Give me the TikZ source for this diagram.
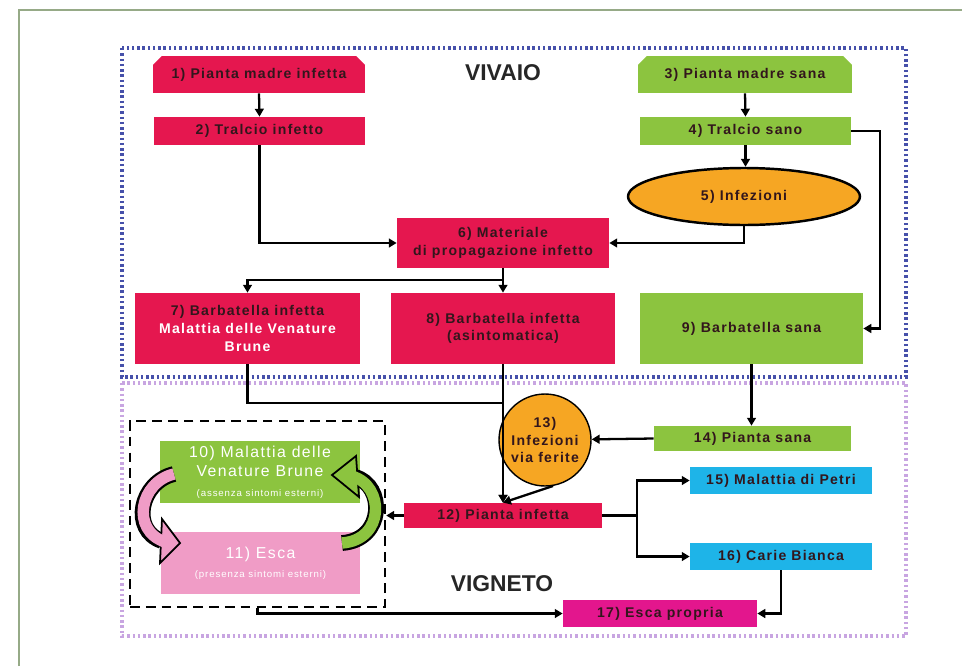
\documentclass[tikz,border=0pt]{standalone}
\usepackage{fontspec}
\setmainfont{Liberation Sans}
\newfontfamily\boxfont[LetterSpace=9]{Liberation Sans}
\usetikzlibrary{shapes.geometric,shapes.misc,arrows.meta}

\definecolor{vred}{RGB}{229,23,79}
\definecolor{vgreen}{RGB}{140,196,63}
\definecolor{vorange}{RGB}{246,166,35}
\definecolor{vblue}{RGB}{30,180,232}
\definecolor{vmagenta}{RGB}{227,22,141}
\definecolor{vpink}{RGB}{240,156,198}
\definecolor{vtext}{RGB}{50,22,28}
\definecolor{vivaioline}{RGB}{70,80,170}
\definecolor{vignetoline}{RGB}{200,165,225}
\definecolor{frameline}{RGB}{150,170,135}

\tikzset{
  box/.style={rectangle, inner sep=1pt, align=center, text=vtext,
    font=\boxfont\bfseries\fontsize{8}{10}\selectfont},
  redbox/.style={box, fill=vred},
  greenbox/.style={box, fill=vgreen},
  bluebox/.style={box, fill=vblue},
  topbox/.style={chamfered rectangle, chamfered rectangle corners={north west,north east},
    chamfered rectangle xsep=2.5pt, chamfered rectangle ysep=2.5pt},
  lightbox/.style={box, text=white, font=\boxfont\fontsize{9}{11}\selectfont},
  flow/.style={line width=1.3pt, -{Triangle[length=4.5pt,width=5pt]}},
  link/.style={line width=1.3pt},
  title/.style={font=\bfseries\fontsize{13}{15}\selectfont, text=black!85},
}

\begin{document}
\begin{tikzpicture}[x=0.02cm,y=-0.02cm]
	\useasboundingbox (0,0) rectangle (962,666);

	% frame
	\draw[frameline, line width=1pt] (19,666) -- (19,10) -- (962,10);

	% areas
	\draw[vivaioline, line width=2pt, dash pattern=on 1.4pt off 1.6pt] (122,48) rectangle (906,377);
	\draw[vignetoline, line width=2pt, dash pattern=on 1.4pt off 1.6pt] (122,383) rectangle (906,636);
	\node[title] (vivaio) at (503,73) {VIVAIO};
	\node[title] (vigneto) at (502,584) {VIGNETO};

	% vivaio
	\node[redbox, topbox, minimum width=4.24cm, minimum height=0.74cm] (n1) at (259,74.5) {1) Pianta madre infetta};
	\node[redbox, minimum width=4.22cm, minimum height=0.56cm] (n2) at (259.5,131) {2) Tralcio infetto};
	\node[greenbox, topbox, minimum width=4.28cm, minimum height=0.74cm] (n3) at (745,74.5) {3) Pianta madre sana};
	\node[greenbox, minimum width=4.22cm, minimum height=0.56cm] (n4) at (745.5,131) {4) Tralcio sano};
	\node[box, ellipse, fill=vorange, draw=black, line width=1.4pt, minimum width=4.64cm, minimum height=1.14cm] (n5) at (744,196.5) {5) Infezioni};
	\node[redbox, minimum width=4.24cm, minimum height=1cm] (n6) at (503,243) {6) Materiale\\di propagazione infetto};
	\node[redbox, minimum width=4.5cm, minimum height=1.42cm] (n7) at (247.5,328.5) {7) Barbatella infetta\\\textcolor{white}{Malattia delle Venature}\\\textcolor{white}{Brune}};
	\node[redbox, minimum width=4.48cm, minimum height=1.42cm] (n8) at (503,328.5) {8) Barbatella infetta\\(asintomatica)};
	\node[greenbox, minimum width=4.46cm, minimum height=1.42cm] (n9) at (751.5,328.5) {9) Barbatella sana};

	% vigneto
	\node[greenbox, minimum width=3.94cm, minimum height=0.5cm] (n14) at (752.5,438.5) {14) Pianta sana};
	\node[box, circle, fill=vorange, draw=black, line width=0.8pt, minimum size=1.84cm, inner sep=0pt] (n13) at (545,440) {13)\\Infezioni\\via ferite};
	\node[redbox, minimum width=3.96cm, minimum height=0.5cm] (n12) at (503,515.5) {12) Pianta infetta};
	\node[bluebox, minimum width=3.64cm, minimum height=0.54cm] (n15) at (781,480.5) {15) Malattia di Petri};
	\node[bluebox, minimum width=3.64cm, minimum height=0.54cm] (n16) at (781,556.5) {16) Carie Bianca};
	\node[box, fill=vmagenta, minimum width=3.88cm, minimum height=0.54cm] (n17) at (660,613.5) {17) Esca propria};
	\node[lightbox, fill=vgreen, minimum width=4cm, minimum height=1.24cm] (n10) at (260,472) {10) Malattia delle\\Venature Brune\\{\fontsize{5.5}{7}\selectfont (assenza sintomi esterni)}};
	\node[lightbox, fill=vpink, minimum width=3.98cm, minimum height=1.24cm] (n11) at (260.5,563) {11) Esca\\{\fontsize{5.5}{7}\selectfont (presenza sintomi esterni)}};
	\node[draw=black, line width=1.4pt, dash pattern=on 5.5pt off 3.5pt, minimum width=5.1cm, minimum height=3.72cm] (grp) at (257.5,514) {};

	% cycle arrows
	\draw[black, line width=9pt] (174,474) .. controls (140,482) and (130,530) .. (162,541);
	\draw[black, line width=9pt] (342,543) .. controls (385,540) and (385,485) .. (355,477);
	\filldraw[fill=vpink, draw=black, line width=1pt] (162,519) -- (180,543) -- (160,563) -- cycle;
	\filldraw[fill=vgreen, draw=black, line width=1pt] (356,456) -- (332,475) -- (359,497) -- cycle;
	\draw[vpink, line width=6.5pt, shorten >=-2pt] (174,474) .. controls (140,482) and (130,530) .. (162,541);
	\draw[vgreen, line width=6.5pt, shorten >=-2pt] (342,543) .. controls (385,540) and (385,485) .. (355,477);

	% connectors vivaio
	\draw[flow] (n1.south) -- (n2.north);
	\draw[flow] (n2.south) |- (n6.west);
	\draw[flow] (n3.south) -- (n4.north);
	\draw[flow] (n4.south) -- (n4.south |- n5.north);
	\draw[flow] (n5.south) |- (n6.east);
	\draw[flow] (n4.east) -- ++(29,0) |- (n9.east);
	\draw[link] (n6.south) -- ++(0,12) coordinate (split);
	\draw[flow] (split) -| (n7.north);
	\draw[flow] (n6.south) -- (n8.north);

	% connectors vigneto
	\draw[flow] (n8.south) -- (n12.north);
	\draw[flow] (n7.south) -- ++(0,39) -| (n12.north);
	\draw[flow] (n13.280) -- (n12.north);
	\draw[flow] (n9.south) -- (n9.south |- n14.north);
	\draw[flow] (n14.west) -- (n13);
	\draw[flow] (n12.west) -- (n12.west -| grp.east);
	\draw[link] (n12.east) -- ++(35,0) coordinate (fork);
	\draw[flow] (fork) |- (n15.west);
	\draw[flow] (fork) |- (n16.west);
	\draw[flow] (n16.south) |- (n17.east);
	\draw[flow] (grp.south) |- (n17.west);

\end{tikzpicture}
\end{document}
